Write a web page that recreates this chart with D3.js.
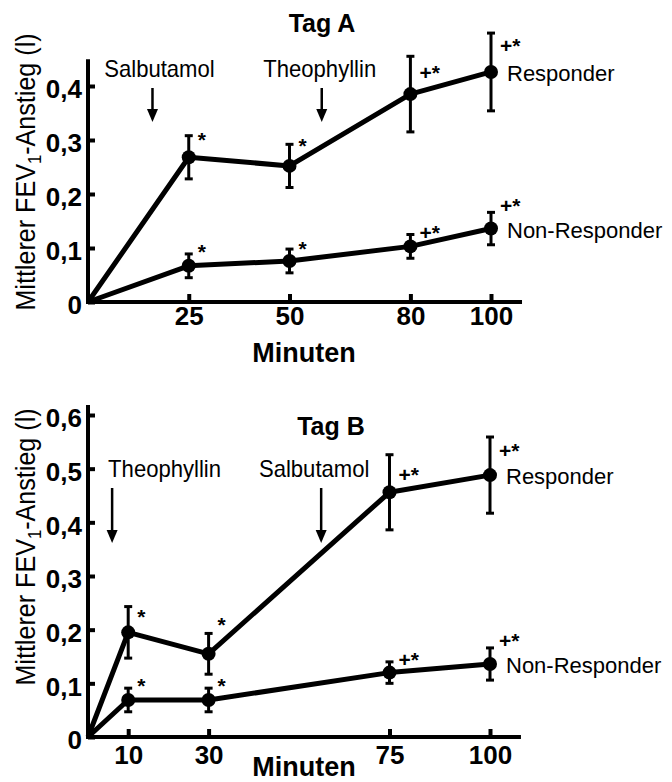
<!DOCTYPE html>
<html>
<head>
<meta charset="utf-8">
<script src="https://cdn.jsdelivr.net/npm/d3@7"></script>
<style>
  body { margin: 0; background: #fff; }
  text { font-family: "Liberation Sans", Arial, Helvetica, sans-serif; fill: #000; }
</style>
</head>
<body>
<script>
// ---- Tag A ----
const minutenA = [0, 25, 50, 80, 100];
const responderA = [0, 0.268, 0.252, 0.385, 0.426];
const responderAErr = [0, 0.04, 0.04, 0.07, 0.072];
const nonResponderA = [0, 0.067, 0.076, 0.103, 0.136];
const nonResponderAErr = [0, 0.022, 0.022, 0.022, 0.03];
const sigResponderA = ["", "*", "*", "+*", "+*"];
const sigNonResponderA = ["", "*", "*", "+*", "+*"];
const xTicksA = [25, 50, 80, 100];
const yTicksA = [0, 0.1, 0.2, 0.3, 0.4];
const gabenA = ["Salbutamol", "Theophyllin"];
const gabenAZeit = [16, 58];

// ---- Tag B ----
const minutenB = [0, 10, 30, 75, 100];
const responderB = [0, 0.195, 0.155, 0.456, 0.488];
const responderBErr = [0, 0.048, 0.038, 0.07, 0.071];
const nonResponderB = [0, 0.069, 0.069, 0.12, 0.136];
const nonResponderBErr = [0, 0.022, 0.022, 0.02, 0.03];
const sigResponderB = ["", "*", "*", "+*", "+*"];
const sigNonResponderB = ["", "*", "*", "+*", "+*"];
const xTicksB = [10, 30, 75, 100];
const yTicksB = [0, 0.1, 0.2, 0.3, 0.4, 0.5, 0.6];
const gabenB = ["Theophyllin", "Salbutamol"];
const gabenBZeit = [6, 58];

const width = 672;
const height = 782;

const svg = d3.select("body").append("svg")
    .attr("width", width)
    .attr("height", height)
    .attr("xmlns", "http://www.w3.org/2000/svg");

svg.append("rect").attr("width", width).attr("height", height).attr("fill", "#fff");

const fmt = d => d === 0 ? "0" : d3.format(".1f")(d).replace(".", ",");

// schmale Schrift nachahmen (Helvetica Condensed im Original)
function condense(sel, f) {
    sel.each(function () {
        const len = this.getComputedTextLength();
        d3.select(this).attr("textLength", len * f).attr("lengthAdjust", "spacingAndGlyphs");
    });
}

function panel(p) {
    const g = svg.append("g");
    const x = d3.scaleLinear().domain([0, 100]).range([88, p.x100]);
    const y = d3.scaleLinear().domain([0, p.yMax]).range([p.y0, p.yTop]);

    // Achsen
    const ya = g.append("g").attr("transform", "translate(88,0)")
        .call(d3.axisLeft(y).tickValues(p.yTicks).tickSize(-7).tickPadding(6).tickFormat(fmt));
    ya.select(".domain").remove();
    ya.selectAll(".tick line").attr("stroke", "#000").attr("stroke-width", 4);
    ya.selectAll(".tick text").attr("dy", "0.45em")
        .style("font-size", "26px").style("font-weight", "bold");

    const xa = g.append("g").attr("transform", `translate(0,${p.y0})`)
        .call(d3.axisBottom(x).tickValues(p.xTicks).tickSize(-8).tickPadding(p.xPad));
    xa.select(".domain").remove();
    xa.selectAll(".tick line").attr("stroke", "#000").attr("stroke-width", 4);
    xa.selectAll(".tick text")
        .style("font-size", "26px").style("font-weight", "bold");

    g.append("path")
        .attr("d", `M${x(0)},${y(p.yAxisEnd)}V${y(0)}H${x(p.xAxisEnd)}`)
        .attr("fill", "none").attr("stroke", "#000").attr("stroke-width", 4)
        .attr("stroke-linejoin", "miter").attr("stroke-linecap", "square");

    // Titel
    g.append("text").attr("x", p.titleX).attr("y", p.titleY)
        .attr("text-anchor", "middle")
        .style("font-size", "25px").style("font-weight", "bold")
        .text(p.title);

    g.append("text").attr("x", p.minX).attr("y", p.minY)
        .attr("text-anchor", "middle")
        .style("font-size", "27px").style("font-weight", "bold")
        .text("Minuten");

    const yl = g.append("text")
        .attr("transform", `translate(${p.ylX},${p.ylY}) rotate(-90)`)
        .attr("text-anchor", "middle")
        .style("font-size", "27px");
    yl.append("tspan").text("Mittlerer FEV");
    yl.append("tspan").attr("dy", 6).style("font-size", "18px").text("1");
    yl.append("tspan").attr("dy", -6).text("-Anstieg (l)");
    condense(yl, 0.93);

    // Pfeile (Medikamentengabe)
    p.gaben.forEach((name, i) => {
        const ax = x(p.gabenZeit[i]);
        g.append("line").attr("x1", ax).attr("x2", ax)
            .attr("y1", p.arrowTop).attr("y2", p.arrowBottom - 10)
            .attr("stroke", "#000").attr("stroke-width", 2.5);
        g.append("path")
            .attr("d", `M${ax - 5.5},${p.arrowBottom - 13}L${ax + 5.5},${p.arrowBottom - 13}L${ax},${p.arrowBottom}Z`)
            .attr("fill", "#000");
        g.append("text").attr("x", ax + p.gabenDx[i]).attr("y", p.gabenY)
            .attr("text-anchor", p.gabenAnchor[i])
            .style("font-size", "24px")
            .text(name)
            .call(condense, 0.92);
    });

    const line = d3.line().x(d => x(d[0])).y(d => y(d[1]));

    p.series.forEach(s => {
        const pts = p.minuten.map((m, i) => [m, s.values[i], s.err[i], s.sig[i]]);
        g.append("path").datum(pts)
            .attr("d", line)
            .attr("fill", "none").attr("stroke", "#000")
            .attr("stroke-width", 5).attr("stroke-linejoin", "round");

        const pg = g.append("g").selectAll("g").data(pts.slice(1)).join("g");
        pg.append("line")
            .attr("x1", d => x(d[0])).attr("x2", d => x(d[0]))
            .attr("y1", d => y(d[1] - d[2])).attr("y2", d => y(d[1] + d[2]))
            .attr("stroke", "#000").attr("stroke-width", 3);
        pg.selectAll(".cap").data(d => [[d[0], d[1] - d[2]], [d[0], d[1] + d[2]]]).join("line")
            .attr("x1", d => x(d[0]) - 4).attr("x2", d => x(d[0]) + 4)
            .attr("y1", d => y(d[1])).attr("y2", d => y(d[1]))
            .attr("stroke", "#000").attr("stroke-width", 3);
        pg.append("circle")
            .attr("cx", d => x(d[0])).attr("cy", d => y(d[1])).attr("r", 7)
            .attr("fill", "#000");
        pg.append("text")
            .attr("x", d => x(d[0]) + 9)
            .attr("y", (d, i) => y(d[1]) + s.sigDy[i])
            .style("font-size", "21px").style("font-weight", "bold")
            .text(d => d[3]);

        const last = pts[pts.length - 1];
        g.append("text")
            .attr("x", x(last[0]) + 16).attr("y", y(last[1]) + 9)
            .style("font-size", "22px")
            .text(s.name);
    });
}

panel({
    title: "Tag A", titleX: 322, titleY: 32,
    x100: 491, xAxisEnd: 107.2, xTicks: xTicksA, xPad: 5,
    y0: 302, yTop: 86, yMax: 0.4, yAxisEnd: 0.446, yTicks: yTicksA,
    minX: 304, minY: 362, ylX: 35, ylY: 172,
    gaben: gabenA, gabenZeit: gabenAZeit, gabenDx: [7, -2], gabenAnchor: ["middle", "middle"],
    gabenY: 77, arrowTop: 88, arrowBottom: 122,
    minuten: minutenA,
    series: [
        { name: "Responder", values: responderA, err: responderAErr, sig: sigResponderA, sigDy: [-10, -13, -14, -19] },
        { name: "Non-Responder", values: nonResponderA, err: nonResponderAErr, sig: sigNonResponderA, sigDy: [-7, -5, -6, -16] }
    ]
});

panel({
    title: "Tag B", titleX: 331, titleY: 435,
    x100: 490, xAxisEnd: 107.2, xTicks: xTicksB, xPad: 9,
    y0: 737, yTop: 415, yMax: 0.6, yAxisEnd: 0.615, yTicks: yTicksB,
    minX: 304, minY: 776, ylX: 35, ylY: 547,
    gaben: gabenB, gabenZeit: gabenBZeit, gabenDx: [-4, -7], gabenAnchor: ["start", "middle"],
    gabenY: 477, arrowTop: 488, arrowBottom: 543,
    minuten: minutenB,
    series: [
        { name: "Responder", values: responderB, err: responderBErr, sig: sigResponderB, sigDy: [-8, -22, -10, -17] },
        { name: "Non-Responder", values: nonResponderB, err: nonResponderBErr, sig: sigNonResponderB, sigDy: [-7, -7, -6, -16] }
    ]
});
</script>
</body>
</html>
